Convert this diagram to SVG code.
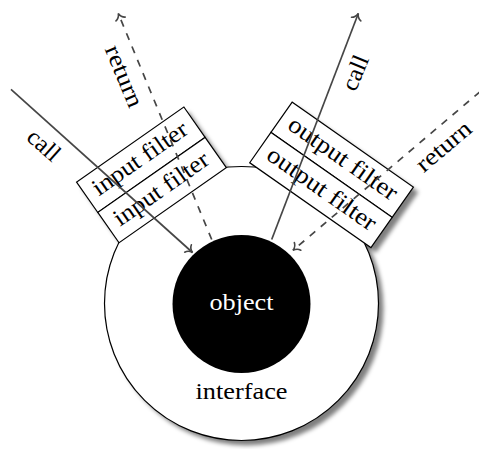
<svg xmlns="http://www.w3.org/2000/svg" width="479" height="449" viewBox="0 0 479 449">
  <style>
    .txt { font-family: "Liberation Serif", "DejaVu Serif", serif; font-size: 24px; fill: #000; }
    .box { fill: #fff; stroke: #000; stroke-width: 1.2; }
    .conn { fill: none; stroke: #464646; stroke-width: 1.7; }
    .dash { stroke-dasharray: 7.2 7.2; }
    .shadow { fill: #000; opacity: 0.5; }
  </style>
  <defs>
    <filter id="blur" x="-20%" y="-20%" width="140%" height="140%">
      <feGaussianBlur stdDeviation="2"/>
    </filter>
    <marker id="to" markerUnits="userSpaceOnUse" markerWidth="16" markerHeight="16" viewBox="-8 -8 16 16" refX="0" refY="0" orient="auto">
      <path d="M -6 -5 C -5 -2.2, -2 -0.5, 0 0 C -2 0.5, -5 2.2, -6 5" fill="none" stroke="#464646" stroke-width="1.6" stroke-linecap="round"/>
    </marker>
  </defs>

  <!-- drop shadows -->
  <g id="shadows" filter="url(#blur)" transform="translate(5 5)">
    <circle class="shadow" cx="241.5" cy="303.5" r="137"/>
    <g transform="translate(241.5 303.5) rotate(-35)">
      <rect class="shadow" x="-65.5" y="-194" width="131" height="74"/>
    </g>
    <g transform="translate(241.5 303.5) rotate(35)">
      <rect class="shadow" x="-74" y="-194" width="148" height="74"/>
    </g>
  </g>

  <g id="interface">
    <circle cx="241.5" cy="303.5" r="137" fill="#fff" stroke="#000" stroke-width="1.2"/>
    <text class="txt" x="241.5" y="399" text-anchor="middle" textLength="92" lengthAdjust="spacingAndGlyphs">interface</text>
  </g>

  <g id="object">
    <circle cx="241.5" cy="304" r="69" fill="#000"/>
    <text class="txt" x="241.5" y="309.5" text-anchor="middle" textLength="64" lengthAdjust="spacingAndGlyphs" style="fill:#fff">object</text>
  </g>

  <g id="input-filter-outer" transform="translate(241.5 303.5) rotate(-35)">
    <rect class="box" x="-65.5" y="-194" width="131" height="37"/>
    <text class="txt" x="0" y="-169.5" text-anchor="middle" textLength="111" lengthAdjust="spacingAndGlyphs">input filter</text>
  </g>
  <g id="input-filter-inner" transform="translate(241.5 303.5) rotate(-35)">
    <rect class="box" x="-65.5" y="-157" width="131" height="37"/>
    <text class="txt" x="0" y="-132.5" text-anchor="middle" textLength="111" lengthAdjust="spacingAndGlyphs">input filter</text>
  </g>

  <g id="output-filter-outer" transform="translate(241.5 303.5) rotate(35)">
    <rect class="box" x="-74" y="-194" width="148" height="37"/>
    <text class="txt" x="0" y="-169.5" text-anchor="middle" textLength="128" lengthAdjust="spacingAndGlyphs">output filter</text>
  </g>
  <g id="output-filter-inner" transform="translate(241.5 303.5) rotate(35)">
    <rect class="box" x="-74" y="-157" width="148" height="37"/>
    <text class="txt" x="0" y="-132.5" text-anchor="middle" textLength="128" lengthAdjust="spacingAndGlyphs">output filter</text>
  </g>

  <g id="connectors">
    <line class="conn" x1="11" y1="89.3" x2="192.5" y2="252.5" marker-end="url(#to)"/>
    <line class="conn dash" x1="211.7" y1="239.5" x2="118.3" y2="13.5" marker-end="url(#to)"/>
    <line class="conn" x1="271.7" y1="239.5" x2="358.3" y2="13.5" marker-end="url(#to)"/>
    <line class="conn dash" x1="480" y1="91.7" x2="293" y2="250.3" marker-end="url(#to)"/>

    <g transform="translate(44 145) rotate(41.7)">
      <text class="txt" x="0" y="8" text-anchor="middle" textLength="36" lengthAdjust="spacingAndGlyphs">call</text>
    </g>
    <g transform="translate(122 77) rotate(67.5)">
      <text class="txt" x="0" y="5.5" text-anchor="middle" textLength="65" lengthAdjust="spacingAndGlyphs">return</text>
    </g>
    <g transform="translate(355 72.7) rotate(-67.5)">
      <text class="txt" x="0" y="8" text-anchor="middle" textLength="36" lengthAdjust="spacingAndGlyphs">call</text>
    </g>
    <g transform="translate(445 148) rotate(-40.3)">
      <text class="txt" x="0" y="5.5" text-anchor="middle" textLength="65" lengthAdjust="spacingAndGlyphs">return</text>
    </g>
  </g>
</svg>
